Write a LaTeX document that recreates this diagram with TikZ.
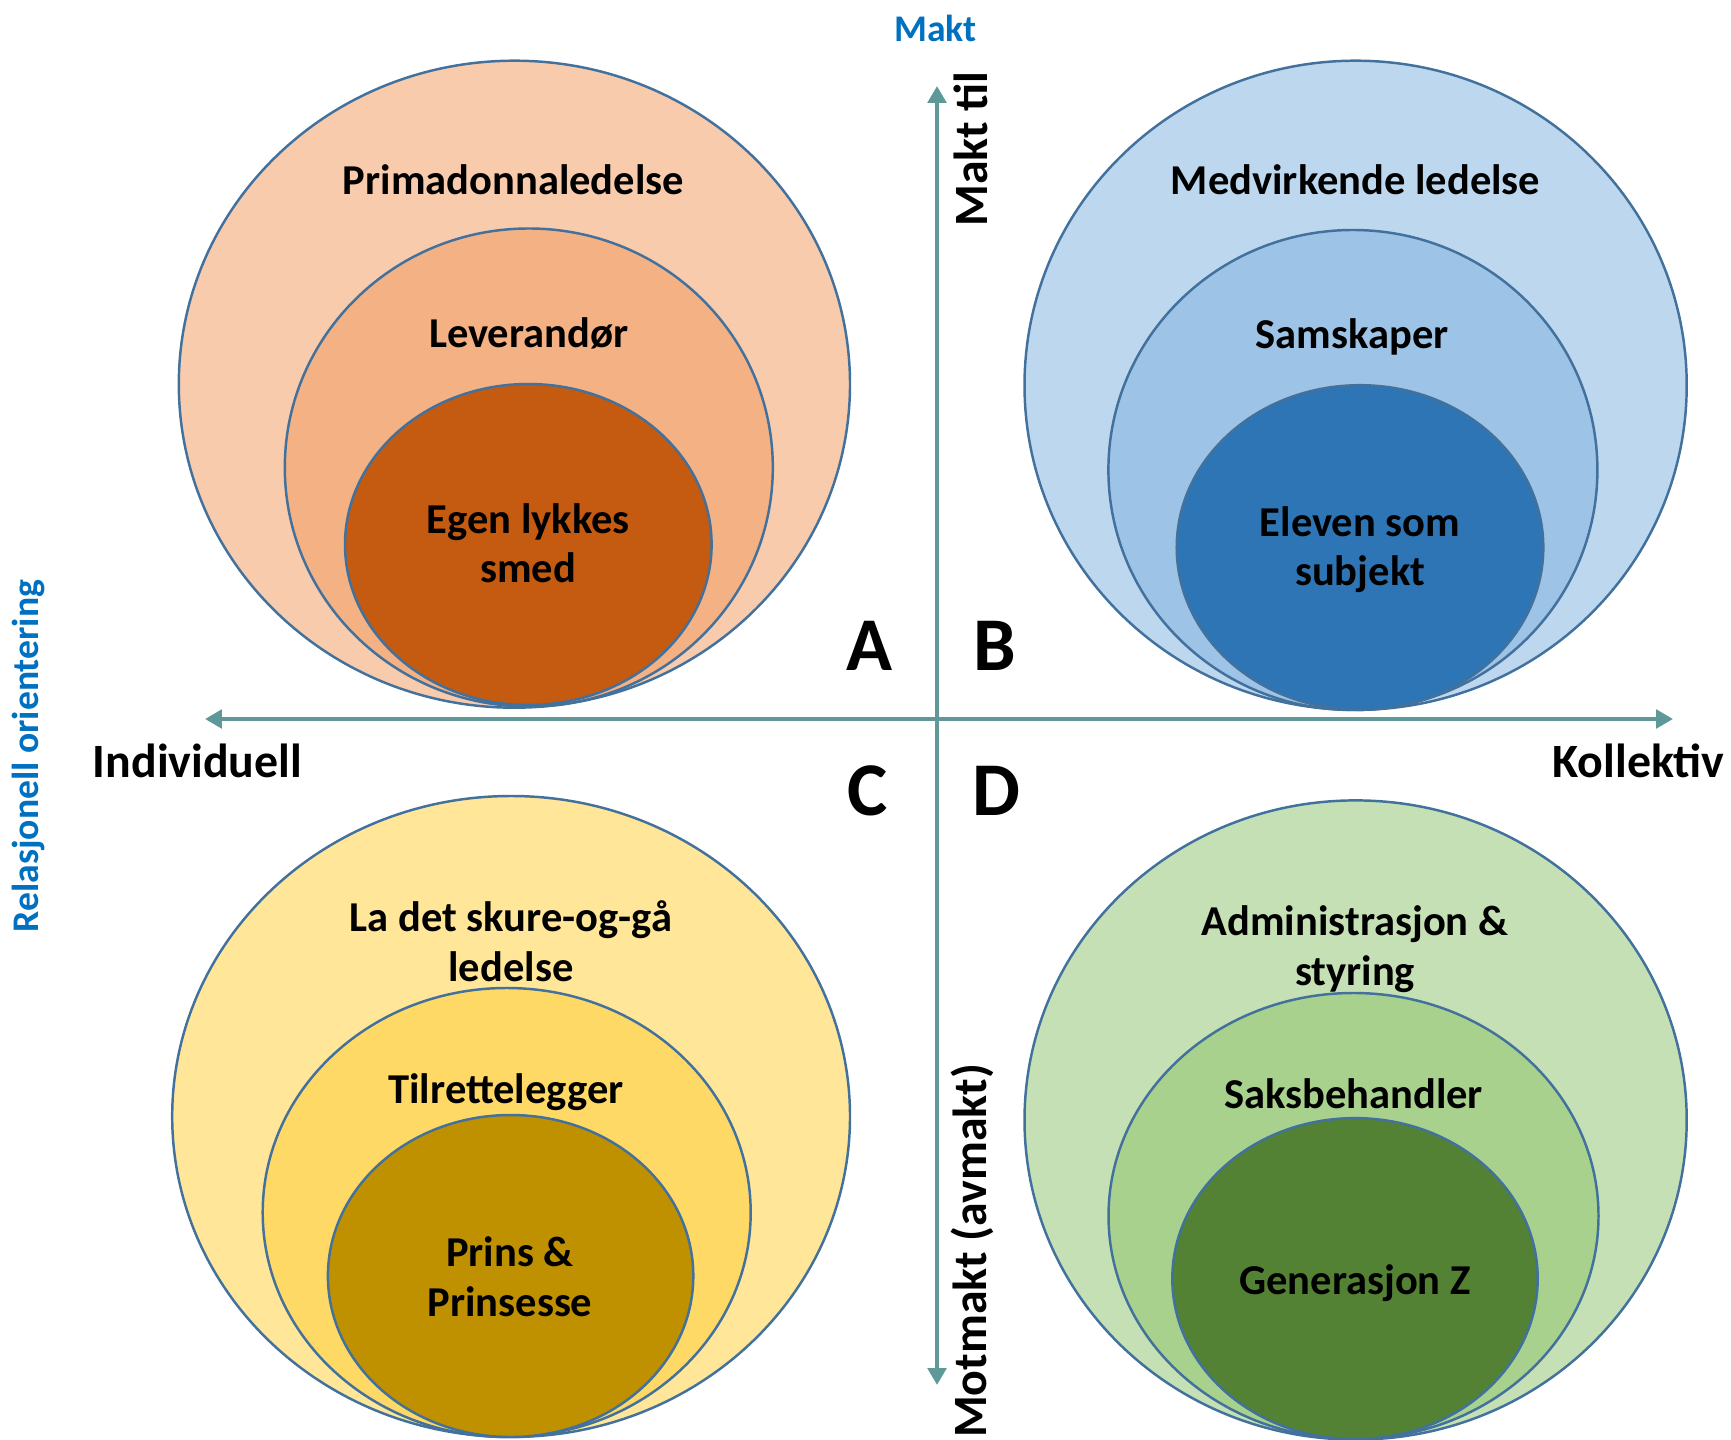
\documentclass[tikz,border=0pt]{standalone}
\usepackage{fontspec}
\setmainfont{Carlito}
\usetikzlibrary{arrows.meta}

\definecolor{rim}{HTML}{41719C}
\definecolor{axisteal}{HTML}{5F9898}
\definecolor{maktblue}{HTML}{0070C0}
\definecolor{aOuter}{HTML}{F8CBAD}
\definecolor{aMid}{HTML}{F4B183}
\definecolor{aInner}{HTML}{C55A11}
\definecolor{bOuter}{HTML}{BDD7EE}
\definecolor{bMid}{HTML}{9DC3E6}
\definecolor{bInner}{HTML}{2E75B6}
\definecolor{cOuter}{HTML}{FFE699}
\definecolor{cMid}{HTML}{FFD966}
\definecolor{cInner}{HTML}{BF9000}
\definecolor{dOuter}{HTML}{C5E0B4}
\definecolor{dMid}{HTML}{A9D18E}
\definecolor{dInner}{HTML}{548235}

\begin{document}
\begin{tikzpicture}[x=0.01cm,y=-0.01cm,
	ring/.style={draw=rim,line width=0.7pt},
	lbl/.style={font=\fontsize{12.1}{14.2}\selectfont\bfseries,align=center,anchor=base,inner sep=0pt},
	quad/.style={font=\fontsize{21.6}{24}\selectfont\bfseries,anchor=base,inner sep=0pt},
	axislbl/.style={font=\fontsize{13.6}{15}\selectfont\bfseries,inner sep=0pt},
	bluelbl/.style={font=\fontsize{10.7}{12}\selectfont\bfseries,text=maktblue,inner sep=0pt},
	axis/.style={draw=axisteal,line width=1.4pt,{Triangle[width=5.2pt,length=4.8pt]}-{Triangle[width=5.2pt,length=4.8pt]}}]
	
	\useasboundingbox (0,0) rectangle (1731,1440);
	
	% A
	\draw[ring,fill=aOuter](514.4,384.2) ellipse [x radius=335.6, y radius=323.5];
	\draw[ring,fill=aMid](528.8,467.5) ellipse [x radius=244, y radius=239];
	\draw[ring,fill=aInner](528.3,544.5) ellipse [x radius=183.3, y radius=160.5];
	
	% B
	\draw[ring,fill=bOuter](1355.6,385.3) ellipse [x radius=331.1, y radius=324.6];
	\draw[ring,fill=bMid](1352.9,470) ellipse [x radius=244.5, y radius=240];
	\draw[ring,fill=bInner](1360,547.5) ellipse [x radius=183.3, y radius=162.3];
	
	% C
	\draw[ring,fill=cOuter](511.1,1116.5) ellipse [x radius=338.9, y radius=320.5];
	\draw[ring,fill=cMid](506.7,1212.5) ellipse [x radius=244, y radius=224.5];
	\draw[ring,fill=cInner](510.6,1276) ellipse [x radius=182.7, y radius=161];
	
	% D
	\draw[ring,fill=dOuter](1355.6,1120) ellipse [x radius=331.1, y radius=319.6];
	\draw[ring,fill=dMid](1353.5,1216) ellipse [x radius=245, y radius=223];
	\draw[ring,fill=dInner](1355,1278.6) ellipse [x radius=182.7, y radius=160.5];
	
	\node[lbl] (primadonna) at (513.4,195) {Primadonnaledelse};
	\node[lbl] (leverandor) at (528.8,347.5) {Leverandør};
	\node[lbl] (egen) at (528.3,583) {Egen lykkes\\smed};
	
	\node[lbl] (medvirkende) at (1355.6,195) {Medvirkende ledelse};
	\node[lbl] (samskaper) at (1352,349) {Samskaper};
	\node[lbl] (eleven) at (1360,586) {Eleven som\\subjekt};
	
	\node[lbl] (skure) at (511,981) {La det skure-og-gå\\ledelse};
	\node[lbl] (tilrette) at (506,1103) {Tilrettelegger};
	\node[lbl] (prins) at (510,1316) {Prins \&\\Prinsesse};
	
	\node[lbl] (admin) at (1355,985) {Administrasjon \&\\styring};
	\node[lbl] (saks) at (1353.5,1108) {Saksbehandler};
	\node[lbl] (genz) at (1355,1294) {Generasjon Z};
	
	% akser
	\coordinate (top) at (937,86);
	\coordinate (bottom) at (937,1385);
	\coordinate (left) at (205,719);
	\coordinate (right) at (1673,719);
	\draw[axis](bottom)--(top);
	\draw[axis](right)--(left);
	
	\node[quad] (qa) at (869.5,670) {A};
	\node[quad] (qb) at (994.5,670) {B};
	\node[quad] (qc) at (867.7,815) {C};
	\node[quad] (qd) at (996.5,815) {D};
	
	\node[axislbl,anchor=base] (individuell) at (197.5,777) {Individuell};
	\node[axislbl,anchor=base] (kollektiv) at (1638.5,777) {Kollektiv};
	\node[axislbl,rotate=90] (maktTil) at (971,149) {Makt til};
	\node[axislbl,rotate=90] (motmakt) at (972,1251) {Motmakt (avmakt)};
	
	\node[bluelbl,anchor=base] (makt) at (935.5,41.7) {Makt};
	\node[bluelbl,rotate=90] (relasjonell) at (28,756) {Relasjonell orientering};
	
\end{tikzpicture}
\end{document}
